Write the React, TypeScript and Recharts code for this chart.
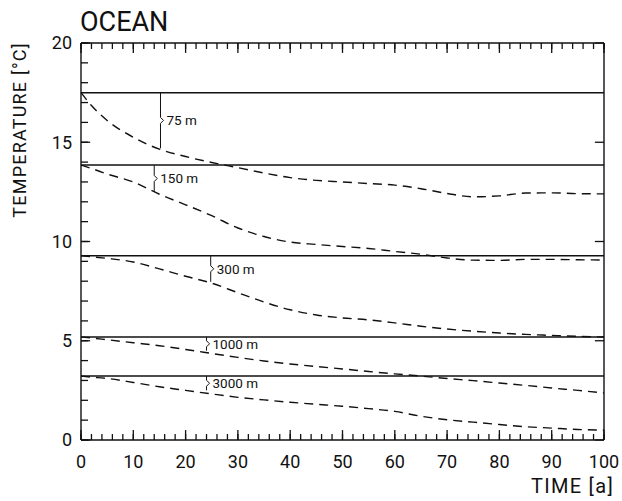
import { LineChart, Line, XAxis, YAxis, ReferenceLine } from 'recharts';

// time axis [a]
const years = [0, 2, 5, 10, 15, 20, 25, 30, 35, 40, 45, 50, 55, 60, 65, 70, 75, 80, 85, 90, 95, 100];

// dashed curves, temperature [°C] per depth
const t75 = [17.5, 16.85, 16.1, 15.25, 14.65, 14.28, 13.98, 13.72, 13.45, 13.22, 13.08, 13.0, 12.92, 12.84, 12.66, 12.42, 12.25, 12.3, 12.44, 12.45, 12.41, 12.4];
const t150 = [13.85, 13.68, 13.4, 13.0, 12.38, 11.85, 11.3, 10.68, 10.25, 9.97, 9.85, 9.75, 9.65, 9.5, 9.36, 9.17, 9.06, 9.05, 9.1, 9.1, 9.08, 9.07];
const t300 = [9.28, 9.23, 9.15, 8.97, 8.62, 8.25, 7.9, 7.42, 6.95, 6.56, 6.3, 6.15, 6.05, 5.9, 5.73, 5.59, 5.48, 5.39, 5.32, 5.27, 5.22, 5.19];
const t1000 = [5.19, 5.14, 5.05, 4.9, 4.75, 4.56, 4.36, 4.16, 3.98, 3.83, 3.7, 3.58, 3.45, 3.33, 3.22, 3.1, 2.99, 2.87, 2.75, 2.62, 2.5, 2.37];
const t3000 = [3.22, 3.17, 3.1, 2.9, 2.68, 2.5, 2.32, 2.15, 2.02, 1.9, 1.8, 1.7, 1.58, 1.44, 1.2, 1.02, 0.9, 0.78, 0.67, 0.6, 0.53, 0.5];

// solid reference levels and bracket annotations
const depths = ['75 m', '150 m', '300 m', '1000 m', '3000 m'];
const baseLevels = [17.5, 13.85, 9.28, 5.19, 3.22];
const bracketX = [15.2, 14, 24.8, 24, 24];
const bracketEnd = [14.7, 12.5, 7.97, 4.5, 2.5];

const xTicks = Array.from({ length: 51 }, (_, i) => i * 2);
const yTicks = Array.from({ length: 21 }, (_, i) => i);
const xMajor = xTicks.filter((t) => t % 10 === 0);
const yMajor = yTicks.filter((v) => v % 5 === 0);

const data = years.map((t, i) => ({
  t,
  d75: t75[i],
  d150: t150[i],
  d300: t300[i],
  d1000: t1000[i],
  d3000: t3000[i],
}));

const INK = '#111';
const FONT = 'Roboto, "Liberation Sans", sans-serif';
const seriesKeys = ['d75', 'd150', 'd300', 'd1000', 'd3000'];
const tickStyle = { stroke: INK, strokeWidth: 1.3 };

// longer marks at the major ticks, in axis units
const majorMarks = [
  ...xMajor.map((t) => [
    { k: `xb${t}`, a: { x: t, y: 0 }, b: { x: t, y: 0.5 } },
    { k: `xt${t}`, a: { x: t, y: 20 }, b: { x: t, y: 19.5 } },
  ]),
  ...yMajor.map((v) => [
    { k: `yl${v}`, a: { x: 0, y: v }, b: { x: 1.75, y: v } },
    { k: `yr${v}`, a: { x: 100, y: v }, b: { x: 98.25, y: v } },
  ]),
].flat();

const renderNone = (props: any) => <g key={`n${props.payload.value}`} />;

const renderBottomTick = (props: any) => {
  const { x, y, payload } = props;
  const v = payload.value;
  if (v % 10 !== 0) return <g key={`bt${v}`} />;
  return (
    <g key={`bt${v}`}>
      <text x={x} y={y + 28} textAnchor="middle" fontSize={18} fontFamily={FONT} fill={INK}>
        {v}
      </text>
    </g>
  );
};

const renderLeftTick = (props: any) => {
  const { x, y, payload } = props;
  const v = payload.value;
  if (v % 5 !== 0) return <g key={`lt${v}`} />;
  return (
    <g key={`lt${v}`}>
      <text x={x - 9} y={y} dy="0.36em" textAnchor="end" fontSize={18} fontFamily={FONT} fill={INK}>
        {v}
      </text>
    </g>
  );
};

const Brace = (props: any) => {
  const { x1, y1, y2 } = props;
  const top = Math.min(y1, y2);
  const bot = Math.max(y1, y2);
  const m = (top + bot) / 2;
  const d = `M${x1},${top} L${x1},${m - 3} L${x1 + 3},${m} L${x1},${m + 3} L${x1},${bot}`;
  return <path d={d} fill="none" stroke={INK} strokeWidth={1} />;
};

export default function App() {
  return (
    <div style={{ position: 'absolute', left: 0, top: 0, width: 622, height: 501 }}>
      <LineChart width={622} height={501} data={data} margin={{ top: 0, right: 0, bottom: 0, left: 0 }}>
        <XAxis
          dataKey="t"
          type="number"
          domain={[0, 100]}
          ticks={xTicks}
          interval={0}
          height={61}
          tickLine={tickStyle}
          tickSize={-6}
          tickMargin={6}
          axisLine={{ stroke: INK, strokeWidth: 1.4 }}
          tick={renderBottomTick}
        />
        <XAxis
          xAxisId="top"
          orientation="top"
          dataKey="t"
          type="number"
          domain={[0, 100]}
          ticks={xTicks}
          interval={0}
          height={43}
          tickLine={tickStyle}
          tickSize={-6}
          tickMargin={0}
          axisLine={{ stroke: INK, strokeWidth: 1.4 }}
          tick={renderNone}
        />
        <YAxis
          type="number"
          domain={[0, 20]}
          ticks={yTicks}
          interval={0}
          width={81}
          tickLine={tickStyle}
          tickSize={-7}
          tickMargin={7}
          axisLine={{ stroke: INK, strokeWidth: 1.4 }}
          tick={renderLeftTick}
        />
        <YAxis
          yAxisId="right"
          orientation="right"
          type="number"
          domain={[0, 20]}
          ticks={yTicks}
          interval={0}
          width={18}
          tickLine={tickStyle}
          tickSize={-7}
          tickMargin={0}
          axisLine={{ stroke: INK, strokeWidth: 1.4 }}
          tick={renderNone}
        />
        {majorMarks.map((m) => (
          <ReferenceLine key={m.k} segment={[m.a, m.b]} stroke={INK} strokeWidth={1.3} ifOverflow="visible" />
        ))}
        {baseLevels.map((v) => (
          <ReferenceLine key={`b${v}`} y={v} stroke={INK} strokeWidth={1.5} />
        ))}
        {depths.map((name, i) => (
          <ReferenceLine
            key={name}
            segment={[
              { x: bracketX[i], y: baseLevels[i] },
              { x: bracketX[i], y: bracketEnd[i] },
            ]}
            shape={<Brace />}
            label={{ value: name, position: 'right', offset: 6, fontSize: 13.5, fill: INK, fontFamily: FONT }}
          />
        ))}
        {seriesKeys.map((k) => (
          <Line
            key={k}
            dataKey={k}
            type="monotone"
            stroke={INK}
            strokeWidth={1.4}
            strokeDasharray="9 6"
            dot={false}
            activeDot={false}
            isAnimationActive={false}
          />
        ))}
      </LineChart>
      <div
        style={{
          position: 'absolute',
          left: 80,
          top: 6,
          fontFamily: FONT,
          fontSize: 27,
          color: INK,
          lineHeight: '32px',
        }}
      >
        OCEAN
      </div>
      <div
        style={{
          position: 'absolute',
          left: 19,
          top: 130,
          transform: 'translate(-50%, -50%) rotate(-90deg)',
          fontFamily: FONT,
          fontSize: 18,
          letterSpacing: 1.2,
          color: INK,
          whiteSpace: 'nowrap',
        }}
      >
        TEMPERATURE [°C]
      </div>
      <div
        style={{
          position: 'absolute',
          right: 8,
          top: 474,
          fontFamily: FONT,
          fontSize: 20,
          letterSpacing: 1.3,
          color: INK,
          whiteSpace: 'nowrap',
        }}
      >
        TIME [a]
      </div>
    </div>
  );
}
